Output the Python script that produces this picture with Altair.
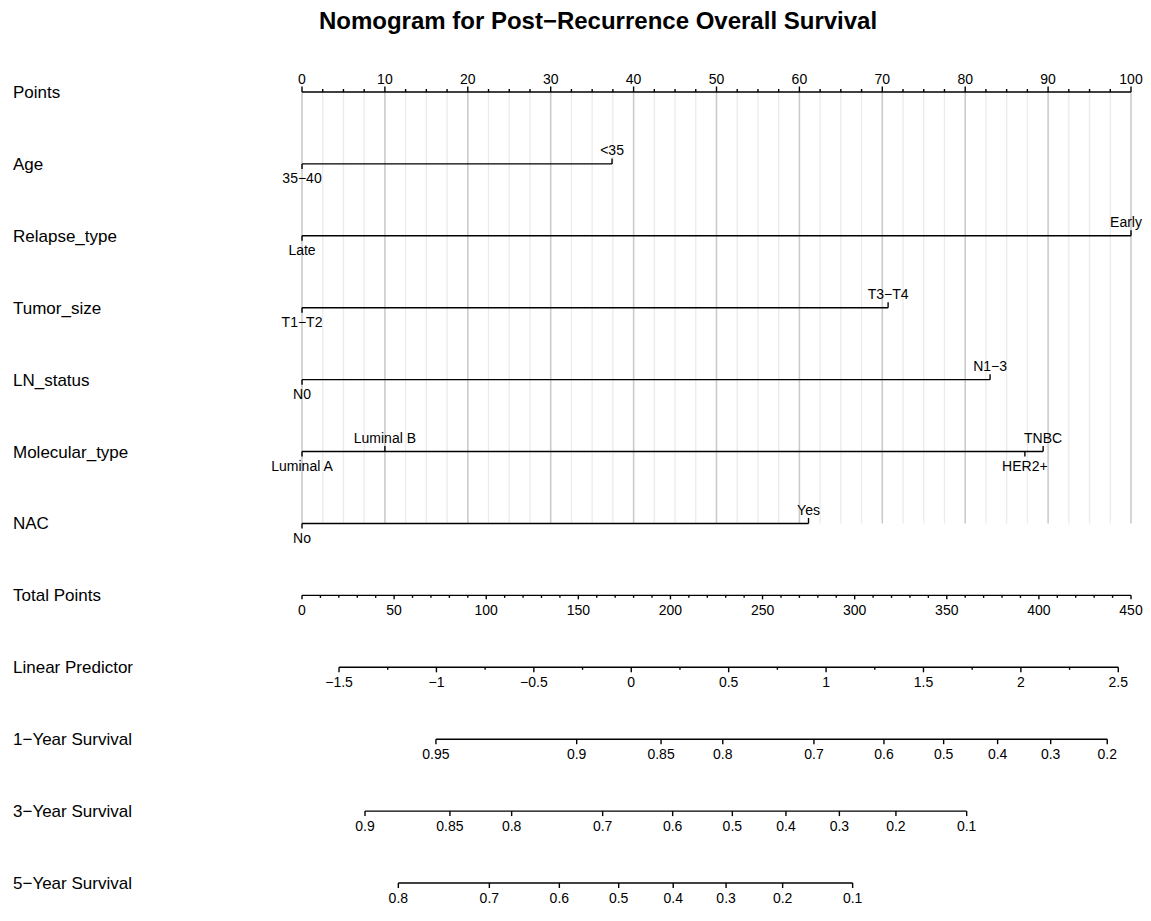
import altair as alt
import pandas as pd
import numpy as np

# ---------------- data ----------------
title_text = "Nomogram for Post\u2212Recurrence Overall Survival"
row_names = ["Points", "Age", "Relapse_type", "Tumor_size", "LN_status",
             "Molecular_type", "NAC", "Total Points", "Linear Predictor",
             "1\u2212Year Survival", "3\u2212Year Survival", "5\u2212Year Survival"]

# predictor levels (points on 0-100 scale) and label side
age_levels = ["35\u221240", "<35"]
age_points = [0, 37.4]
age_side = ["below", "above"]

relapse_levels = ["Late", "Early"]
relapse_points = [0, 100]
relapse_side = ["below", "above"]

tumor_levels = ["T1\u2212T2", "T3\u2212T4"]
tumor_points = [0, 70.7]
tumor_side = ["below", "above"]

ln_levels = ["N0", "N1\u22123"]
ln_points = [0, 83.0]
ln_side = ["below", "above"]

mol_levels = ["Luminal A", "Luminal B", "HER2+", "TNBC"]
mol_points = [0, 10.0, 87.2, 89.4]
mol_side = ["below", "above", "below", "above"]

nac_levels = ["No", "Yes"]
nac_points = [0, 61.1]
nac_side = ["below", "above"]

# axes
points_major = list(range(0, 101, 10))
points_minor = [v for v in np.arange(0, 100.01, 2.5) if v % 10 != 0]
total_major = list(range(0, 451, 50))
total_minor = [v for v in range(0, 451, 10) if v % 50 != 0]
total_max = 450

lp_major = [-1.5, -1, -0.5, 0, 0.5, 1, 1.5, 2, 2.5]
lp_major_labels = ["\u22121.5", "\u22121", "\u22120.5", "0", "0.5", "1", "1.5", "2", "2.5"]
lp_minor = [-1.25, -0.75, -0.25, 0.25, 0.75, 1.25, 1.75, 2.25]
lp_anchor_lp = [-1.5, 2.5]          # LP values ...
lp_anchor_total = [20.1, 443.1]     # ... at these total points

surv1_labels = ["0.95", "0.9", "0.85", "0.8", "0.7", "0.6", "0.5", "0.4", "0.3", "0.2"]
surv1_total = [72.7, 149.1, 194.9, 228.4, 277.9, 315.9, 348.3, 377.6, 406.4, 437.1]
surv3_labels = ["0.9", "0.85", "0.8", "0.7", "0.6", "0.5", "0.4", "0.3", "0.2", "0.1"]
surv3_total = [34.2, 80.3, 113.8, 163.2, 201.2, 233.6, 262.7, 291.7, 322.4, 360.8]
surv5_labels = ["0.8", "0.7", "0.6", "0.5", "0.4", "0.3", "0.2", "0.1"]
surv5_total = [52.3, 101.7, 139.7, 171.9, 201.5, 230.2, 260.9, 298.9]

# ---------------- build tables ----------------
def tp(v):
    return v * 100.0 / total_max

def lp_to_total(v):
    a0, a1 = lp_anchor_lp
    t0, t1 = lp_anchor_total
    return t0 + (v - a0) * (t1 - t0) / (a1 - a0)

grid_rows = [{"x": v, "row": 0, "row2": 6, "major": (v % 10 == 0)}
             for v in np.arange(0, 100.01, 2.5)]
grid = pd.DataFrame(grid_rows)

lines, ticks, labels = [], [], []

# Points axis (row 0)
lines.append({"x": 0, "x2": 100, "row": 0})
for v in points_major:
    ticks.append({"x": v, "row": 0, "kind": "up_long"})
    labels.append({"x": v, "row": 0, "text": str(v), "side": "above"})
for v in points_minor:
    ticks.append({"x": v, "row": 0, "kind": "up_short"})

predictors = [
    (1, age_levels, age_points, age_side),
    (2, relapse_levels, relapse_points, relapse_side),
    (3, tumor_levels, tumor_points, tumor_side),
    (4, ln_levels, ln_points, ln_side),
    (5, mol_levels, mol_points, mol_side),
    (6, nac_levels, nac_points, nac_side),
]
for r, lev, pts, side in predictors:
    lines.append({"x": min(pts), "x2": max(pts), "row": r})
    for l, p, s in zip(lev, pts, side):
        ticks.append({"x": p, "row": r, "kind": "up_long" if s == "above" else "down_long"})
        labels.append({"x": p, "row": r, "text": l,
                       "side": ("above_edge" if (s == "above" and p >= 99.5) else s)})

# Total points (row 7)
lines.append({"x": 0, "x2": 100, "row": 7})
for v in total_major:
    ticks.append({"x": tp(v), "row": 7, "kind": "down_mid"})
    labels.append({"x": tp(v), "row": 7, "text": str(v), "side": "below"})
for v in total_minor:
    ticks.append({"x": tp(v), "row": 7, "kind": "down_short"})

# Linear predictor (row 8)
lines.append({"x": tp(lp_to_total(lp_major[0])), "x2": tp(lp_to_total(lp_major[-1])), "row": 8})
for v, t in zip(lp_major, lp_major_labels):
    ticks.append({"x": tp(lp_to_total(v)), "row": 8, "kind": "down_long"})
    labels.append({"x": tp(lp_to_total(v)), "row": 8, "text": t, "side": "below"})
for v in lp_minor:
    ticks.append({"x": tp(lp_to_total(v)), "row": 8, "kind": "down_short"})

# Survival scales (rows 9-11)
for r, labs, tots in [(9, surv1_labels, surv1_total),
                      (10, surv3_labels, surv3_total),
                      (11, surv5_labels, surv5_total)]:
    lines.append({"x": tp(min(tots)), "x2": tp(max(tots)), "row": r})
    for l, t in zip(labs, tots):
        ticks.append({"x": tp(t), "row": r, "kind": "down_long"})
        labels.append({"x": tp(t), "row": r, "text": l, "side": "below"})

lines = pd.DataFrame(lines)
ticks = pd.DataFrame(ticks)
labels = pd.DataFrame(labels)
rows_df = pd.DataFrame({"row": list(range(len(row_names))), "name": row_names})
title_df = pd.DataFrame({"t": [title_text]})

# ---------------- chart ----------------
FONT = "Liberation Sans"
PLOT_H = 791
xs = alt.Scale(domain=[0, 100], nice=False, zero=False)
ys = alt.Scale(domain=[0, 11], reverse=True, nice=False, zero=False)
X = alt.X("x:Q", scale=xs, axis=None)
Y = alt.Y("row:Q", scale=ys, axis=None)

grid_minor = alt.Chart(grid).transform_filter("!datum.major").mark_rule(
    color="#ebebeb", strokeWidth=1.3
).encode(x=X, y=Y, y2=alt.Y2("row2:Q"))

grid_major = alt.Chart(grid).transform_filter("datum.major").mark_rule(
    color="#cbcbcb", strokeWidth=1.6
).encode(x=X, y=Y, y2=alt.Y2("row2:Q"))

hlines = alt.Chart(lines).mark_rule(color="black", strokeWidth=1.4).encode(
    x=X, x2=alt.X2("x2:Q"), y=Y
)

def tick_layer(kind, off):
    return alt.Chart(ticks).transform_filter(f"datum.kind == '{kind}'").mark_rule(
        color="black", strokeWidth=1.4, y2Offset=off
    ).encode(x=X, y=Y, y2=alt.Y2("row:Q"))

t_layers = [tick_layer("up_long", -5.5), tick_layer("up_short", -3),
            tick_layer("down_long", 5), tick_layer("down_mid", 4),
            tick_layer("down_short", 2.5)]

lab_above = alt.Chart(labels).transform_filter("datum.side == 'above'").mark_text(
    font=FONT, fontSize=14, align="center", baseline="alphabetic", dy=-8.5, color="black"
).encode(x=X, y=Y, text="text:N")

lab_above_edge = alt.Chart(labels).transform_filter("datum.side == 'above_edge'").mark_text(
    font=FONT, fontSize=14, align="center", baseline="alphabetic", dy=-8.5, dx=-5,
    color="black"
).encode(x=X, y=Y, text="text:N")

lab_below = alt.Chart(labels).transform_filter("datum.side == 'below'").mark_text(
    font=FONT, fontSize=14, align="center", baseline="alphabetic", dy=19.5, color="black"
).encode(x=X, y=Y, text="text:N")

row_labels = alt.Chart(rows_df).mark_text(
    font=FONT, fontSize=17, align="left", baseline="middle", dy=1, color="black"
).encode(x=alt.value(-289), y=Y, text="name:N")

title = alt.Chart(title_df).mark_text(
    font=FONT, fontSize=24, fontWeight="bold", align="center", baseline="alphabetic",
    color="black"
).encode(x=alt.value(296), y=alt.value(-63), text="t:N")

chart = alt.layer(
    grid_minor, grid_major, hlines, *t_layers, lab_above, lab_above_edge, lab_below,
    row_labels, title
).properties(
    width=829, height=PLOT_H,
    padding={"left": 294, "top": 84, "right": 12, "bottom": 25},
    autosize=alt.AutoSizeParams(type="none"),
    background="white",
).configure_view(stroke=None)

chart.save("out.html", embed_options={"renderer": "svg", "actions": False})
